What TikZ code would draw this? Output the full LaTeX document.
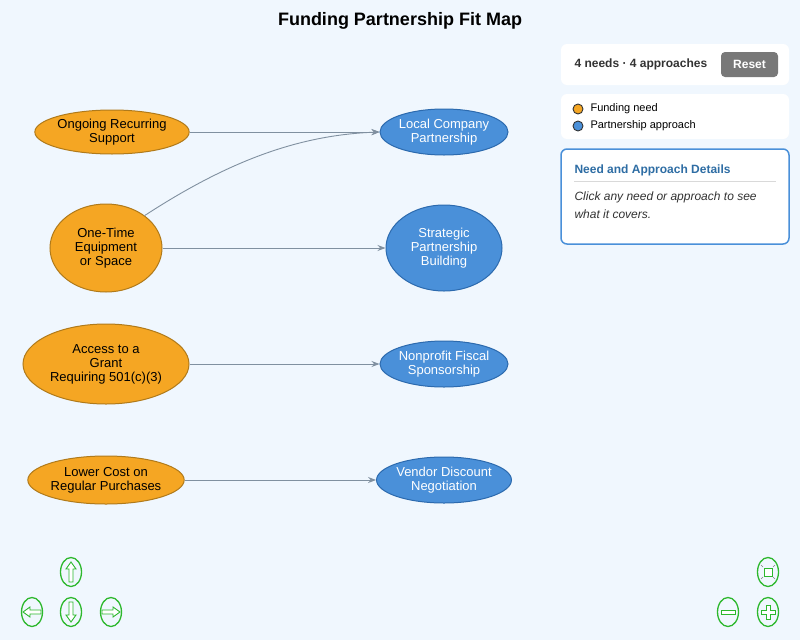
\documentclass[tikz,border=0pt]{standalone}
\usepackage{fontspec}
\setmainfont{Liberation Sans}
\usetikzlibrary{shapes.geometric,arrows.meta}
\definecolor{bg}{HTML}{F0F7FE}
\definecolor{ofill}{HTML}{F5A623}
\definecolor{ostroke}{HTML}{B07A1A}
\definecolor{bfill}{HTML}{4A90D9}
\definecolor{bstroke}{HTML}{2C6AAE}
\definecolor{edge}{HTML}{8090A0}
\definecolor{grn}{HTML}{2DB82D}
\definecolor{dblue}{HTML}{2E6DA4}
\begin{document}
\begin{tikzpicture}[x=1pt,y=-1pt,
  need/.style={ellipse,draw=ostroke,fill=ofill,line width=1pt,inner sep=0pt,font=\fontsize{13}{14}\selectfont,align=center,text=black},
  appr/.style={ellipse,draw=bstroke,fill=bfill,line width=1pt,inner sep=0pt,font=\fontsize{13}{14}\selectfont,align=center,text=white},
  con/.style={draw=edge,line width=0.9pt,-{Stealth[length=8pt,width=6pt]}},
  panel/.style={fill=white,rounded corners=6pt,draw=none},
  nav/.style={ellipse,draw=grn,line width=1.3pt,fill=bg,minimum width=21pt,minimum height=29pt,inner sep=0pt},
  ico/.style={draw=grn,line width=0.9pt,fill=white}]
\fill[bg] (0,0) rectangle (800,640);
\useasboundingbox (0,0) rectangle (800,640);
\node[font=\bfseries\fontsize{18}{20}\selectfont] (title) at (400,21) {Funding Partnership Fit Map};

\node[need,minimum width=134pt,minimum height=44pt] (n1) at (112,132) {Ongoing Recurring\\Support};
\node[need,minimum width=112pt,minimum height=88pt] (n2) at (106,248) {One-Time\\Equipment\\or Space};
\node[need,minimum width=166pt,minimum height=80pt] (n3) at (106,364) {Access to a\\Grant\\Requiring 501(c)(3)};
\node[need,minimum width=152pt,minimum height=48pt] (n4) at (106,480) {Lower Cost on\\Regular Purchases};
\node[appr,minimum width=128pt,minimum height=46pt] (a1) at (444,132) {Local Company\\Partnership};
\node[appr,minimum width=116pt,minimum height=86pt] (a2) at (444,248) {Strategic\\Partnership\\Building};
\node[appr,minimum width=128pt,minimum height=46pt] (a3) at (444,364) {Nonprofit Fiscal\\Sponsorship};
\node[appr,minimum width=134pt,minimum height=46pt] (a4) at (444,480) {Vendor Discount\\Negotiation};

\draw[con] (n1) -- (a1);
\draw[con] (n2) -- (a2);
\draw[con] (n3) -- (a3);
\draw[con] (n4) -- (a4);
\draw[con] (n2.40) .. controls (230,160) and (300,135) .. (a1.west);

% panels
\fill[panel] (561,44) rectangle (789,85);
\node[anchor=west,font=\bfseries\fontsize{12}{14}\selectfont,text=black!80] (cnt) at (571,64.5) {4 needs · 4 approaches};
\node[fill=black!53,rounded corners=4pt,minimum width=57pt,minimum height=25pt,text=white,font=\bfseries\fontsize{12}{14}\selectfont] (reset) at (749.5,64.5) {Reset};
\fill[panel] (561,94) rectangle (789,139);
\node[circle,draw=black!80,fill=ofill,minimum size=10pt,inner sep=0pt,line width=0.9pt] (l1) at (578,109) {};
\node[anchor=west,font=\fontsize{11}{13}\selectfont] (l1t) at (587,109) {Funding need};
\node[circle,draw=black!80,fill=bfill,minimum size=10pt,inner sep=0pt,line width=0.9pt] (l2) at (578,126) {};
\node[anchor=west,font=\fontsize{11}{13}\selectfont] (l2t) at (587,126) {Partnership approach};
\draw[fill=white,draw=bfill,line width=1.5pt,rounded corners=6pt] (561,149) rectangle (789,244);
\node[anchor=west,font=\bfseries\fontsize{12}{14}\selectfont,text=dblue] (dt) at (571,170) {Need and Approach Details};
\draw[black!15,line width=0.8pt] (574,181) -- (776,181);
\node[anchor=north west,font=\itshape\fontsize{12}{18}\selectfont,text=black!80,align=left] (dx) at (571,188) {Click any need or approach to see\\what it covers.};

% nav
\node[nav] (up) at (71,572) {};
\node[nav] (lf) at (32,612) {};
\node[nav] (dn) at (71,612) {};
\node[nav] (rt) at (111,612) {};
\node[nav] (fit) at (768,572) {};
\node[nav] (zo) at (728,612) {};
\node[nav] (zi) at (768,612) {};
\draw[ico] (71,562) -- (76,569) -- (73,569) -- (73,582) -- (69,582) -- (69,569) -- (66,569) -- cycle;
\draw[ico] (71,622) -- (76,615) -- (73,615) -- (73,602) -- (69,602) -- (69,615) -- (66,615) -- cycle;
\draw[ico] (23,612) -- (30,607) -- (30,610) -- (41,610) -- (41,614) -- (30,614) -- (30,617) -- cycle;
\draw[ico] (120,612) -- (113,607) -- (113,610) -- (102,610) -- (102,614) -- (113,614) -- (113,617) -- cycle;
\draw[ico] (721,610) rectangle (735,614);
\draw[ico] (761,610) -- (766,610) -- (766,605) -- (770,605) -- (770,610) -- (775,610) -- (775,614) -- (770,614) -- (770,619) -- (766,619) -- (766,614) -- (761,614) -- cycle;
\draw[ico] (764,568) rectangle (772,576);
\draw[black!50,line width=0.6pt] (761,565) -- (763,567) (775,565) -- (773,567) (761,579) -- (763,577) (775,579) -- (773,577);
\end{tikzpicture}
\end{document}
